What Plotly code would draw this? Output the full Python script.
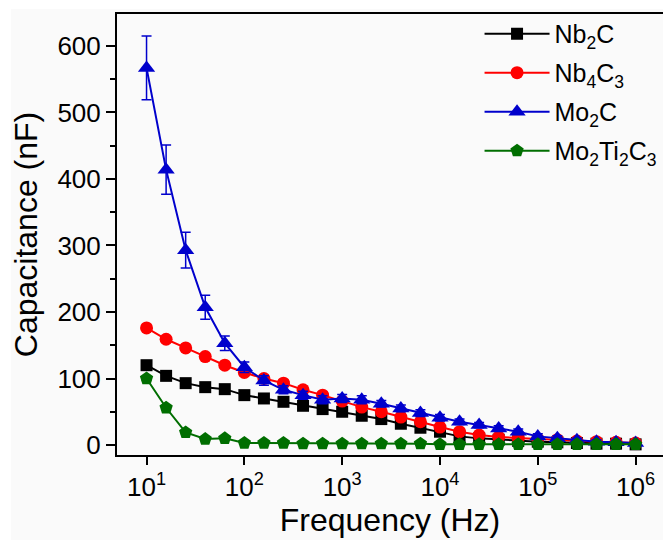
import plotly.graph_objects as go

freq = [10, 15.85, 25.12, 39.81, 63.1, 100, 158.5, 251.2, 398.1, 631, 1000, 1585, 2512, 3981,
        6310, 10000, 15849, 25119, 39811, 63096, 100000, 158489, 251189, 398107, 630957, 1000000]

nb2c = [120, 104, 93, 87, 84, 75, 70, 65, 59, 54, 50, 44, 39, 32, 26, 20, 13, 10, 8, 6, 5, 4, 3, 2, 2, 1]
nb2c_err = [4, 3, 3, 3, 3, 3, 3, 3, 3, 3, 3, 3, 3, 3, 3, 3, 3, 2, 2, 2, 2, 2, 2, 2, 2, 2]

nb4c3 = [176, 159, 146, 133, 120, 109, 100, 93, 83, 75, 66, 57, 50, 42, 35, 27, 20, 15, 12, 10, 9, 8, 6, 5, 4, 3]
nb4c3_err = [4, 4, 4, 4, 4, 5, 5, 5, 5, 5, 5, 5, 5, 5, 4, 4, 4, 4, 4, 3, 3, 3, 3, 3, 3, 3]

mo2c = [567, 414, 293, 207, 153, 117, 97, 83, 75, 68, 70, 68, 62, 55, 48, 41, 35, 30, 25, 20, 13, 10, 7, 5, 4, 3]
mo2c_err = [48, 37, 27, 18, 11, 8, 7, 6, 6, 6, 6, 6, 5, 5, 5, 5, 4, 4, 4, 4, 4, 4, 3, 3, 3, 3]

mo2ti2c3 = [100, 56, 19, 9, 10, 3, 3, 3, 2, 2, 2, 2, 2, 2, 2, 1, 1, 1, 1, 1, 1, 1, 1, 1, 1, 1]
mo2ti2c3_err = [3, 3, 2, 2, 2, 2, 2, 2, 2, 2, 2, 2, 2, 2, 2, 2, 2, 2, 2, 2, 2, 2, 2, 2, 2, 2]

series = [
    ("Nb<sub>2</sub>C", nb2c, nb2c_err, "#000000", "square", 12),
    ("Nb<sub>4</sub>C<sub>3</sub>", nb4c3, nb4c3_err, "#ff0000", "circle", 13),
    ("Mo<sub>2</sub>C", mo2c, mo2c_err, "#0000cc", "triangle-up", 15),
    ("Mo<sub>2</sub>Ti<sub>2</sub>C<sub>3</sub>", mo2ti2c3, mo2ti2c3_err, "#006e00", "pentagon", 14),
]

xtick_vals = [10, 100, 1000, 10000, 100000, 1000000]
xtick_text = ["10<sup>1</sup>", "10<sup>2</sup>", "10<sup>3</sup>", "10<sup>4</sup>",
              "10<sup>5</sup>", "10<sup>6</sup>"]

fig = go.Figure()
for i, (name, vals, err, color, sym, size) in enumerate(series):
    fig.add_trace(go.Scatter(
        x=freq, y=vals, name=name, mode="lines+markers",
        legendgroup=f"g{i}",
        line=dict(color=color, width=2),
        marker=dict(symbol=sym, size=size, color=color),
        error_y=dict(type="data", array=err, visible=True, color=color, thickness=1.5, width=5),
        cliponaxis=False,
    ))

fig.update_layout(
    width=663, height=540,
    margin=dict(l=117, r=0, t=14, b=85),
    paper_bgcolor="#ffffff",
    plot_bgcolor="rgba(0,0,0,0)",
    font=dict(family="Liberation Sans, Arial, sans-serif", color="#000000"),
    showlegend=True,
    legend=dict(
        x=0.664, y=1.007, xanchor="left", yanchor="top",
        font=dict(size=25, color="#000000"),
        bgcolor="rgba(0,0,0,0)", borderwidth=0,
        itemwidth=65, tracegroupgap=3.5,
    ),
    shapes=[dict(type="rect", xref="paper", yref="paper",
                 x0=-0.194, x1=1.0, y0=-0.2, y1=1.0113,
                 fillcolor="#fafafa", line=dict(width=0), layer="below")],
)

fig.update_xaxes(
    type="log", range=[0.698, 6.28],
    showline=True, linecolor="#000000", linewidth=2, mirror=True,
    ticks="outside", ticklen=8, tickwidth=2, tickcolor="#000000",
    tickvals=xtick_vals, ticktext=xtick_text,
    tickfont=dict(size=26),
    showgrid=False, zeroline=False,
    title=dict(text="Frequency (Hz)", font=dict(size=32), standoff=4),
)
fig.update_yaxes(
    range=[-15, 648],
    showline=True, linecolor="#000000", linewidth=2,
    ticks="outside", ticklen=9, tickwidth=2, tickcolor="#000000",
    tickvals=[0, 100, 200, 300, 400, 500, 600],
    minor=dict(ticks="outside", ticklen=5, tickwidth=2, tickcolor="#000000",
               tickvals=[50, 150, 250, 350, 450, 550]),
    tickfont=dict(size=26),
    showgrid=False, zeroline=False,
    title=dict(text="Capacitance (nF)", font=dict(size=32), standoff=10),
)

fig.write_html("out.html", config={"displayModeBar": False})
with open("out.html", "r", encoding="utf-8") as f:
    html = f.read()
html = html.replace("<head>", "<head><style>html,body{margin:0;padding:0;overflow:hidden;}</style>", 1)
with open("out.html", "w", encoding="utf-8") as f:
    f.write(html)
